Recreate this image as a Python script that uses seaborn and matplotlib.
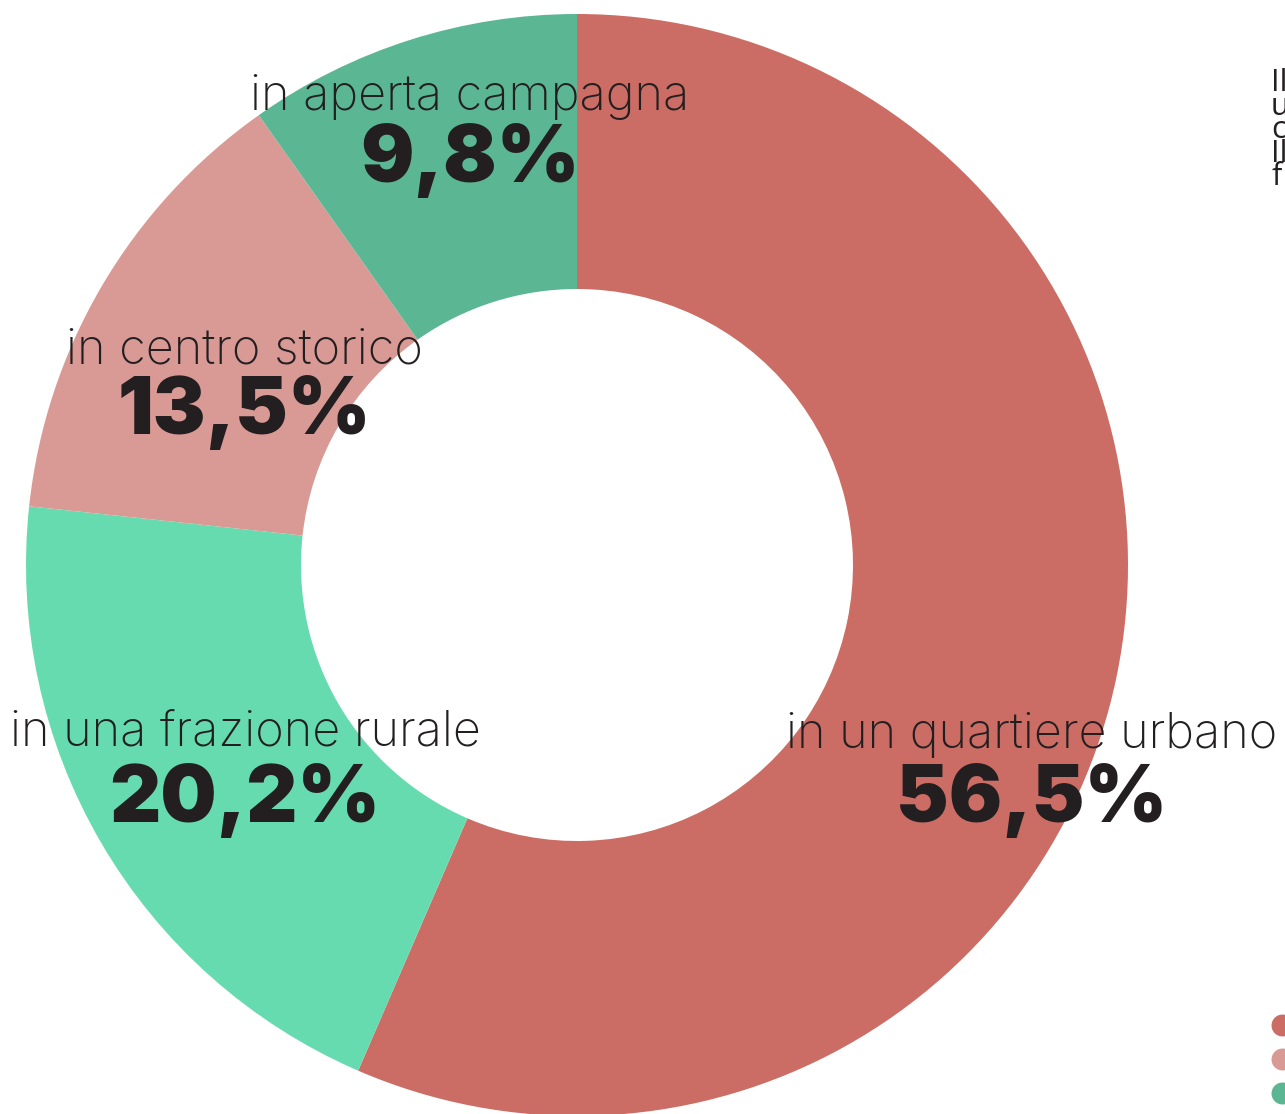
import matplotlib.pyplot as plt
import seaborn as sns

# data (clockwise from 12 o'clock)
categories = ['in un quartiere urbano', 'in una frazione rurale',
              'in centro storico', 'in aperta campagna']
values = [56.5, 20.2, 13.5, 9.8]
value_labels = ['56,5%', '20,2%', '13,5%', '9,8%']
col_pal = ['#cb6d65', '#67dbb0', '#d99a95', '#5bb793']
legend_cols = ['#cb6d65', '#d99a95', '#5bb793']
side_text = ['Il', 'u', 'c', 'Il', 'f']

sns.set_theme(style='white')
plt.rcParams['font.family'] = ['Inter', 'DejaVu Sans']

W, H = 1285, 1114
cx, cy = 577, 565          # donut centre in pixels
R_out, R_in = 551, 276

fig = plt.figure(figsize=(W / 100, H / 100), dpi=100)
ax = fig.add_axes([0, 0, 1, 1])
ax.pie(values, colors=col_pal, startangle=90, counterclock=False,
       radius=R_out, center=(0, 0),
       wedgeprops={'width': R_out - R_in, 'linewidth': 0})
ax.set_xlim(-cx, W - cx)
ax.set_ylim(-(H - cy), cy)
ax.set_aspect('equal')
ax.axis('off')


def px(x, y):
    return x - cx, cy - y


# label layout: (name centre x, name centre y, value centre y)
label_pos = [(1032, 735, 800), (245, 733, 800), (244, 350, 412), (470, 97, 160)]
for name, val, (lx, ly, vy) in zip(categories, value_labels, label_pos):
    ax.text(*px(lx, ly), name, ha='center', va='center', fontsize=35,
            fontweight='light', color='#231f20')
    ax.text(*px(lx, vy), val, ha='center', va='center', fontsize=57,
            fontweight='black', color='#231f20')

# clipped side note and legend dots at the right edge
ax.text(*px(1271, 68), '\n'.join(side_text), ha='left', va='top',
        fontsize=22, linespacing=0.72, color='#231f20',
        family=['Open Sans', 'DejaVu Sans'])
for i, c in enumerate(legend_cols):
    ax.scatter(*px(1282, 1025 + i * 34), s=250, color=c, linewidth=0)

plt.savefig('out.png', dpi=100)
